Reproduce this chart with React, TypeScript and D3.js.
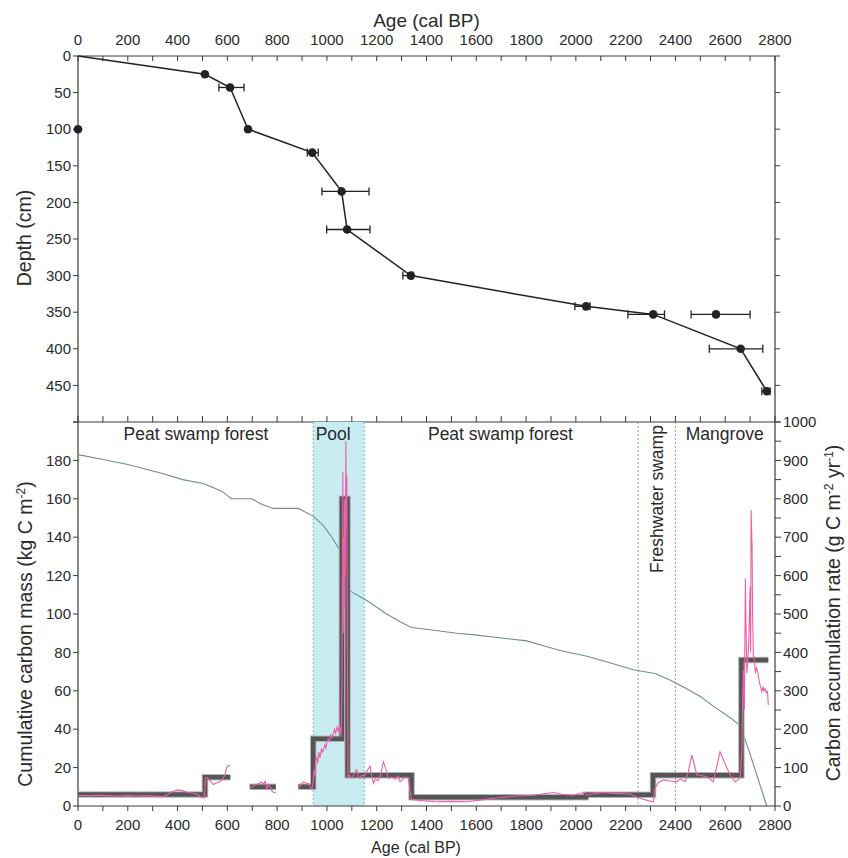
import React from "react";
import * as d3 from "d3";

// ---------- Data ----------
// Age-depth model (connected)
const modelAges = [0, 510, 611, 683, 941, 1059, 1081, 1337, 2041, 2311, 2662, 2767];
const modelDepths = [0, 25, 43, 100, 132, 185, 237, 300, 342, 353, 400, 458];
// Dated points with error ranges (cal BP)
const dateAges = [510, 611, 683, 941, 1059, 1081, 1337, 2041, 2311, 2662, 2767, 0, 2563];
const dateDepths = [25, 43, 100, 132, 185, 237, 300, 342, 353, 400, 458, 100, 353];
const dateLow = [510, 566, 683, 921, 980, 999, 1305, 1996, 2209, 2536, 2747, 0, 2463];
const dateHigh = [510, 667, 683, 965, 1169, 1173, 1346, 2057, 2356, 2751, 2780, 0, 2700];

// Cumulative carbon mass (kg C m-2)
const cumAges = [0, 100, 196, 270, 343, 420, 503, 540, 577, 617, 698, 740, 785, 885, 945, 986, 1020, 1053, 1060, 1083, 1093, 1160, 1240, 1294, 1340, 1430, 1521, 1602, 1700, 1803, 1870, 1937, 2044, 2140, 2231, 2318, 2380, 2432, 2500, 2552, 2620, 2660, 2700, 2767];
const cumMass = [183, 180.5, 178, 175.5, 173, 170, 168, 166, 164, 160, 160, 157, 155, 155, 151, 146, 140, 133, 131, 114, 112, 107, 100, 96, 93, 91.5, 90, 89, 87.5, 86, 83.5, 81, 78, 74.5, 71, 69, 65.5, 62, 57, 52, 46, 42, 27, 0];

// Mean carbon accumulation rate per zone (g C m-2 yr-1)
const stepStarts = [0, 510, 690, 885, 945, 1060, 1083, 1340, 2040, 2310, 2665];
const stepEnds = [510, 612, 795, 945, 1060, 1083, 1340, 2040, 2310, 2665, 2773];
const stepRates = [30, 75, 50, 50, 175, 800, 80, 23, 29, 80, 380];

// High-resolution carbon accumulation rate (pink), in segments
const rateAges1 = [0, 40, 80, 120, 160, 200, 240, 280, 320, 340, 360, 380, 400, 420, 440, 460, 480, 495, 505];
const rateVals1 = [28, 27, 28, 27, 26, 27, 26, 27, 25, 24, 30, 38, 42, 40, 36, 33, 30, 22, 20];
const rateAges2 = [508, 512, 520, 530, 544, 555, 565, 571, 580, 590, 597, 605, 612];
const rateVals2 = [20, 72, 74, 66, 56, 60, 62, 64, 70, 80, 100, 106, 104];
const rateAges3 = [690, 700, 712, 725, 735, 745, 752, 758, 764, 771, 778, 785, 795];
const rateVals3 = [46, 50, 55, 58, 62, 58, 64, 42, 55, 50, 40, 36, 35];
const rateAges4 = [885, 895, 905, 915, 925, 932, 939, 944, 948, 952, 955, 959, 963, 967, 972, 978, 983, 986, 992, 996, 999, 1005, 1010, 1015, 1020, 1026, 1030, 1035, 1040, 1045, 1050, 1053, 1057, 1060, 1062, 1064, 1066, 1068, 1070, 1072, 1074, 1076, 1078, 1080, 1082, 1085, 1090, 1100, 1110, 1120, 1127, 1133, 1140, 1150, 1160, 1173, 1180, 1187, 1195, 1205, 1215, 1227, 1235, 1247, 1260, 1275, 1285, 1294, 1305, 1315, 1327, 1334, 1340, 1380, 1441, 1500, 1562, 1620, 1695, 1760, 1830, 1870, 1910, 1950, 1990, 2020, 2037, 2044, 2080, 2111, 2150, 2190, 2218, 2240, 2258, 2290, 2311, 2318, 2330, 2352, 2380, 2405, 2420, 2439, 2452, 2466, 2475, 2486, 2500, 2526, 2540, 2552, 2565, 2579, 2590, 2599, 2620, 2640, 2655, 2660, 2667, 2670, 2673, 2677, 2681, 2684, 2687, 2691, 2695, 2700, 2702, 2704, 2708, 2710, 2713, 2717, 2721, 2725, 2729, 2733, 2737, 2742, 2747, 2752, 2756, 2760, 2765, 2770, 2773];
const rateVals4 = [46, 55, 63, 60, 59, 50, 43, 60, 94, 80, 120, 128, 110, 140, 125, 150, 140, 146, 160, 150, 163, 175, 168, 185, 178, 189, 200, 190, 205, 195, 210, 207, 180, 300, 600, 870, 450, 700, 520, 800, 600, 950, 720, 860, 420, 75, 80, 72, 85, 94, 75, 72, 80, 78, 90, 104, 80, 59, 70, 66, 80, 115, 100, 72, 75, 70, 78, 63, 70, 75, 72, 40, 17, 14, 11, 12, 11, 16, 22, 26, 28, 32, 35, 30, 28, 33, 35, 28, 33, 35, 33, 32, 31, 24, 20, 14, 11, 46, 60, 68, 65, 63, 70, 63, 90, 133, 110, 81, 80, 76, 70, 63, 100, 141, 125, 111, 80, 63, 70, 72, 150, 285, 354, 250, 593, 450, 346, 380, 437, 571, 400, 771, 671, 500, 393, 380, 346, 360, 354, 340, 324, 310, 298, 310, 300, 306, 295, 298, 263];

// Vegetation zones
const zoneLabels = ["Peat swamp forest", "Pool", "Peat swamp forest", "Mangrove"];
const zoneLabelAges = [474, 1025, 1697, 2598];
const poolRange = [945, 1150];
const freshwaterRange = [2250, 2400];

const ageTicks = d3.range(0, 2801, 100);
const ageLabels = d3.range(0, 2801, 200);
const depthTicks = d3.range(0, 501, 50);
const depthLabels = d3.range(0, 451, 50);
const massTicks = d3.range(0, 201, 20);
const massLabels = d3.range(0, 181, 20);
const rateTicks = d3.range(0, 1001, 50);
const rateLabels = d3.range(0, 1001, 100);

const FONT = "'Liberation Sans', Arial, Helvetica, sans-serif";
const AX = "#3a3a3a";
const TXT = "#2a2a2a";

export default function App() {
  const x = d3.scaleLinear().domain([0, 2800]).range([78, 775]);
  const yDepth = d3.scaleLinear().domain([0, 500]).range([56, 422]);
  const yMass = d3.scaleLinear().domain([0, 200]).range([806, 422]);
  const yRate = d3.scaleLinear().domain([0, 1000]).range([806, 422]);

  const modelLine = d3.line<number>().x((d) => x(modelAges[d])).y((d) => yDepth(modelDepths[d]))(modelAges.map((_, i) => i)) || "";
  const cumLine = d3.line<number>().x((d) => x(cumAges[d])).y((d) => yMass(cumMass[d]))(cumAges.map((_, i) => i)) || "";

  const rateLine = (ages: number[], vals: number[]) =>
    d3.line<number>().x((d) => x(ages[d])).y((d) => yRate(vals[d]))(ages.map((_, i) => i)) || "";

  // step paths: join contiguous segments
  const stepPaths: string[] = [];
  let cur: [number, number][] = [];
  let lastEnd = -1;
  stepStarts.forEach((s, i) => {
    if (cur.length && lastEnd !== s) {
      stepPaths.push(d3.line()(cur) || "");
      cur = [];
    }
    cur.push([x(s), yRate(stepRates[i])]);
    cur.push([x(stepEnds[i]), yRate(stepRates[i])]);
    lastEnd = stepEnds[i];
  });
  if (cur.length) stepPaths.push(d3.line()(cur) || "");

  const x0 = x(0), x1 = x(2800);

  return (
    <svg width={848} height={858} style={{ position: "absolute", left: 0, top: 0, background: "#fff" }} fontFamily={FONT}>
      {/* ---------- Top panel ---------- */}
      <text x={(x0 + x1) / 2} y={27} textAnchor="middle" fontSize={19} fill={TXT}>Age (cal BP)</text>
      {ageLabels.map((a) => (
        <text key={"tl" + a} x={x(a)} y={45} textAnchor="middle" fontSize={15} fill={TXT}>{a}</text>
      ))}
      <line x1={x0} x2={x1} y1={56} y2={56} stroke={AX} strokeWidth={1.2} />
      {ageTicks.map((a) => (
        <line key={"tt" + a} x1={x(a)} x2={x(a)} y1={56} y2={61} stroke={AX} />
      ))}
      <line x1={x0} x2={x0} y1={56} y2={806} stroke={AX} strokeWidth={1.2} />
      <line x1={x1} x2={x1} y1={56} y2={806} stroke={AX} strokeWidth={1.2} />
      {depthTicks.map((d) => (
        <g key={"dt" + d}>
          <line x1={x0 - 5} x2={x0} y1={yDepth(d)} y2={yDepth(d)} stroke={AX} />
          <line x1={x1} x2={x1 + 5} y1={yDepth(d)} y2={yDepth(d)} stroke={AX} />
        </g>
      ))}
      {depthLabels.map((d) => (
        <text key={"dl" + d} x={x0 - 7} y={yDepth(d)} dy="0.35em" textAnchor="end" fontSize={15} fill={TXT}>{d}</text>
      ))}
      <text transform={`translate(31,238) rotate(-90)`} textAnchor="middle" fontSize={19.5} fill={TXT}>Depth (cm)</text>
      <line x1={x0} x2={x1} y1={422} y2={422} stroke={AX} strokeWidth={1.2} />
      {ageTicks.map((a) => (
        <line key={"mt" + a} x1={x(a)} x2={x(a)} y1={416} y2={422} stroke={AX} />
      ))}

      <path d={modelLine} fill="none" stroke="#222" strokeWidth={1.5} />
      {dateAges.map((a, i) => (
        <g key={"pt" + i}>
          {dateHigh[i] > dateLow[i] && (
            <g stroke="#222" strokeWidth={1.3}>
              <line x1={x(dateLow[i])} x2={x(dateHigh[i])} y1={yDepth(dateDepths[i])} y2={yDepth(dateDepths[i])} />
              <line x1={x(dateLow[i])} x2={x(dateLow[i])} y1={yDepth(dateDepths[i]) - 4} y2={yDepth(dateDepths[i]) + 4} />
              <line x1={x(dateHigh[i])} x2={x(dateHigh[i])} y1={yDepth(dateDepths[i]) - 4} y2={yDepth(dateDepths[i]) + 4} />
            </g>
          )}
          <circle cx={x(a)} cy={yDepth(dateDepths[i])} r={4.3} fill="#222" />
        </g>
      ))}

      {/* ---------- Bottom panel ---------- */}
      <rect x={x(poolRange[0])} y={422} width={x(poolRange[1]) - x(poolRange[0])} height={806 - 422} fill="#c8ecf1" />
      {poolRange.map((a) => (
        <line key={"pr" + a} x1={x(a)} x2={x(a)} y1={422} y2={806} stroke="#7fb3b8" strokeDasharray="2,2" strokeWidth={1} />
      ))}
      {freshwaterRange.map((a) => (
        <line key={"fr" + a} x1={x(a)} x2={x(a)} y1={422} y2={806} stroke="#999" strokeDasharray="2,2" strokeWidth={1} />
      ))}
      {zoneLabels.map((l, i) => (
        <text key={"zl" + i} x={x(zoneLabelAges[i])} y={440} textAnchor="middle" fontSize={17.5} fill={TXT}>{l}</text>
      ))}
      <text transform={`translate(${(x(freshwaterRange[0]) + x(freshwaterRange[1])) / 2 + 6},499) rotate(-90)`} textAnchor="middle" fontSize={17.5} fill={TXT}>Freshwater swamp</text>

      <path d={cumLine} fill="none" stroke="#6f8e8b" strokeWidth={1.1} />
      {stepPaths.map((p, i) => (
        <path key={"sh" + i} d={p} fill="none" stroke="#b5b5b5" strokeWidth={6.5} />
      ))}
      {stepPaths.map((p, i) => (
        <path key={"sp" + i} d={p} fill="none" stroke="#555" strokeWidth={4.5} />
      ))}
      <g fill="none" stroke="#ec5fa8" strokeWidth={1.1}>
        <path d={rateLine(rateAges1, rateVals1)} />
        <path d={rateLine(rateAges2, rateVals2)} />
        <path d={rateLine(rateAges3, rateVals3)} />
        <path d={rateLine(rateAges4, rateVals4)} />
      </g>

      {/* axes bottom */}
      <line x1={x0} x2={x1} y1={806} y2={806} stroke={AX} strokeWidth={1.2} />
      {ageTicks.map((a) => (
        <line key={"bt" + a} x1={x(a)} x2={x(a)} y1={806} y2={811} stroke={AX} />
      ))}
      {ageLabels.map((a) => (
        <text key={"bl" + a} x={x(a)} y={830} textAnchor="middle" fontSize={15} fill={TXT}>{a}</text>
      ))}
      <text x={416} y={853} textAnchor="middle" fontSize={16} fill={TXT}>Age (cal BP)</text>
      {massTicks.map((m) => (
        <line key={"mk" + m} x1={x0 - 5} x2={x0} y1={yMass(m)} y2={yMass(m)} stroke={AX} />
      ))}
      {massLabels.map((m) => (
        <text key={"ml" + m} x={x0 - 7} y={yMass(m)} dy="0.35em" textAnchor="end" fontSize={15} fill={TXT}>{m}</text>
      ))}
      <text transform={`translate(32,634) rotate(-90)`} textAnchor="middle" fontSize={19.5} fill={TXT}>
        Cumulative carbon mass (kg C m<tspan dy="-7" fontSize={12}>-2</tspan><tspan dy="7">)</tspan>
      </text>
      {rateTicks.map((r) => (
        <line key={"rk" + r} x1={x1} x2={x1 + 6} y1={yRate(r)} y2={yRate(r)} stroke={AX} />
      ))}
      {rateLabels.map((r) => (
        <text key={"rl" + r} x={x1 + 8} y={yRate(r)} dy="0.35em" textAnchor="start" fontSize={15} fill={TXT}>{r}</text>
      ))}
      <text transform={`translate(840,613) rotate(-90)`} textAnchor="middle" fontSize={19.5} fill={TXT}>
        Carbon accumulation rate (g C m<tspan dy="-7" fontSize={12}>-2</tspan><tspan dy="7"> yr</tspan><tspan dy="-7" fontSize={12}>-1</tspan><tspan dy="7">)</tspan>
      </text>
    </svg>
  );
}
